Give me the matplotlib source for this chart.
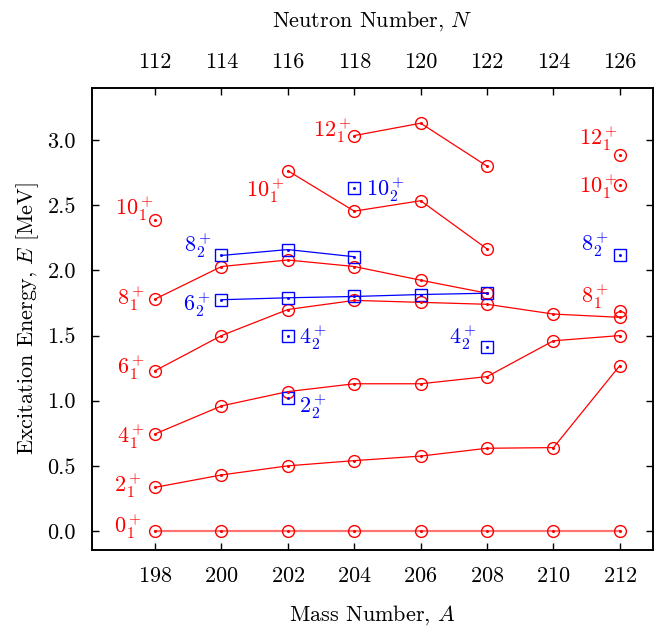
import matplotlib
matplotlib.use('Agg')
import matplotlib.pyplot as plt

plt.rcParams['font.family'] = 'serif'
plt.rcParams['font.serif'] = ['cmr10']
plt.rcParams['mathtext.fontset'] = 'cm'
plt.rcParams['axes.formatter.use_mathtext'] = True

RED = '#ff0000'
BLUE = '#0000ff'

# mass numbers and neutron numbers shown on the top axis
A = [198, 200, 202, 204, 206, 208, 210, 212]
N = [112, 114, 116, 118, 120, 122, 124, 126]

# yrast band (red circles), energies in MeV
E0_1 = [0, 0, 0, 0, 0, 0, 0, 0]
E2_1 = [0.335, 0.43, 0.50, 0.54, 0.575, 0.635, 0.64, 1.27]
E4_1 = [0.745, 0.96, 1.07, 1.13, 1.13, 1.185, 1.46, 1.50]
E6_1 = [1.23, 1.50, 1.70, 1.77, 1.755, 1.74, 1.665, 1.64]
A8_1 = [198, 200, 202, 204, 206, 208]
E8_1 = [1.78, 2.03, 2.08, 2.03, 1.925, 1.825]
A10_1 = [202, 204, 206, 208]
E10_1 = [2.765, 2.455, 2.535, 2.165]
A12_1 = [204, 206, 208]
E12_1 = [3.035, 3.13, 2.80]

# single yrast points without neighbours
A_iso1 = [198, 212, 212, 212]
E_iso1 = [2.385, 1.69, 2.655, 2.885]

# second states (blue squares)
A6_2 = [200, 202, 204, 206, 208]
E6_2 = [1.775, 1.79, 1.80, 1.815, 1.825]
A8_2 = [200, 202, 204]
E8_2 = [2.115, 2.16, 2.105]
A_iso2 = [202, 202, 204, 208, 212]
E_iso2 = [1.02, 1.50, 2.635, 1.415, 2.115]

# state labels: (text, A, E, colour)
labels = [
    (r'$0_1^+$', 197.19, 0.03, RED),
    (r'$2_1^+$', 197.19, 0.35, RED),
    (r'$4_1^+$', 197.28, 0.72, RED),
    (r'$6_1^+$', 197.28, 1.25, RED),
    (r'$8_1^+$', 197.28, 1.785, RED),
    (r'$10_1^+$', 197.38, 2.47, RED),
    (r'$6_2^+$', 199.27, 1.74, BLUE),
    (r'$8_2^+$', 199.28, 2.19, BLUE),
    (r'$10_1^+$', 201.34, 2.615, RED),
    (r'$12_1^+$', 203.36, 3.07, RED),
    (r'$10_2^+$', 204.93, 2.62, BLUE),
    (r'$4_2^+$', 202.76, 1.48, BLUE),
    (r'$2_2^+$', 202.76, 0.95, BLUE),
    (r'$4_2^+$', 207.27, 1.48, BLUE),
    (r'$12_1^+$', 211.35, 3.01, RED),
    (r'$10_1^+$', 211.35, 2.64, RED),
    (r'$8_2^+$', 211.26, 2.195, BLUE),
    (r'$8_1^+$', 211.26, 1.80, RED),
]

fig = plt.figure(figsize=(6.57, 6.27), dpi=100)
ax = fig.add_axes([0.140, 0.1228, 0.854, 0.7368])

circ = dict(marker='o', ms=8.5, mfc='none', mew=1.0)
sq = dict(marker='s', ms=8.5, mfc='none', mew=1.0)

ax.plot(A, E0_1, color=RED, lw=1.6, alpha=0.55)
ax.plot(A, E0_1, color=RED, lw=0, **circ)
for xs, ys in [(A, E2_1), (A, E4_1), (A, E6_1), (A8_1, E8_1),
               (A10_1, E10_1), (A12_1, E12_1)]:
    ax.plot(xs, ys, color=RED, lw=0.9, **circ)
ax.plot(A_iso1, E_iso1, color=RED, lw=0, **circ)

for xs, ys in [(A6_2, E6_2), (A8_2, E8_2)]:
    ax.plot(xs, ys, color=BLUE, lw=0.9, **sq)
ax.plot(A_iso2, E_iso2, color=BLUE, lw=0, **sq)

# centre dots of the point symbols
all_red = (A + A + A + A + A8_1 + A10_1 + A12_1 + A_iso1,
           E0_1 + E2_1 + E4_1 + E6_1 + E8_1 + E10_1 + E12_1 + E_iso1)
all_blue = (A6_2 + A8_2 + A_iso2, E6_2 + E8_2 + E_iso2)
ax.plot(all_red[0], all_red[1], ls='none', marker='o', ms=1.2, color=RED)
ax.plot(all_blue[0], all_blue[1], ls='none', marker='s', ms=1.0, color=BLUE)

for txt, x, y, c in labels:
    ax.text(x, y, txt, color=c, fontsize=16, ha='center', va='center')

ax.set_xlim(196.1, 213.0)
ax.set_ylim(-0.146, 3.40)
ax.set_xticks(A)
ax.set_yticks([0.0, 0.5, 1.0, 1.5, 2.0, 2.5, 3.0])
ax.set_yticklabels(['0.0', '0.5', '1.0', '1.5', '2.0', '2.5', '3.0'])
ax.tick_params(direction='in', length=5, width=1.0, labelsize=16,
               right=True, pad=11.5)
ax.tick_params(axis='x', pad=12)
ax.set_xlabel(r'Mass Number, $A$', fontsize=16, labelpad=12)
ax.set_ylabel(r'Excitation Energy, $E$ [MeV]', fontsize=16, labelpad=5)

top = ax.twiny()
top.set_xlim(ax.get_xlim())
top.set_xticks(A)
top.set_xticklabels([str(n) for n in N])
top.tick_params(direction='in', length=5, width=1.0, labelsize=16, pad=11.5)
top.set_xlabel(r'Neutron Number, $N$', fontsize=16, labelpad=19)

for a in (ax, top):
    for s in a.spines.values():
        s.set_linewidth(1.2)

fig.savefig('out.png', dpi=100)
